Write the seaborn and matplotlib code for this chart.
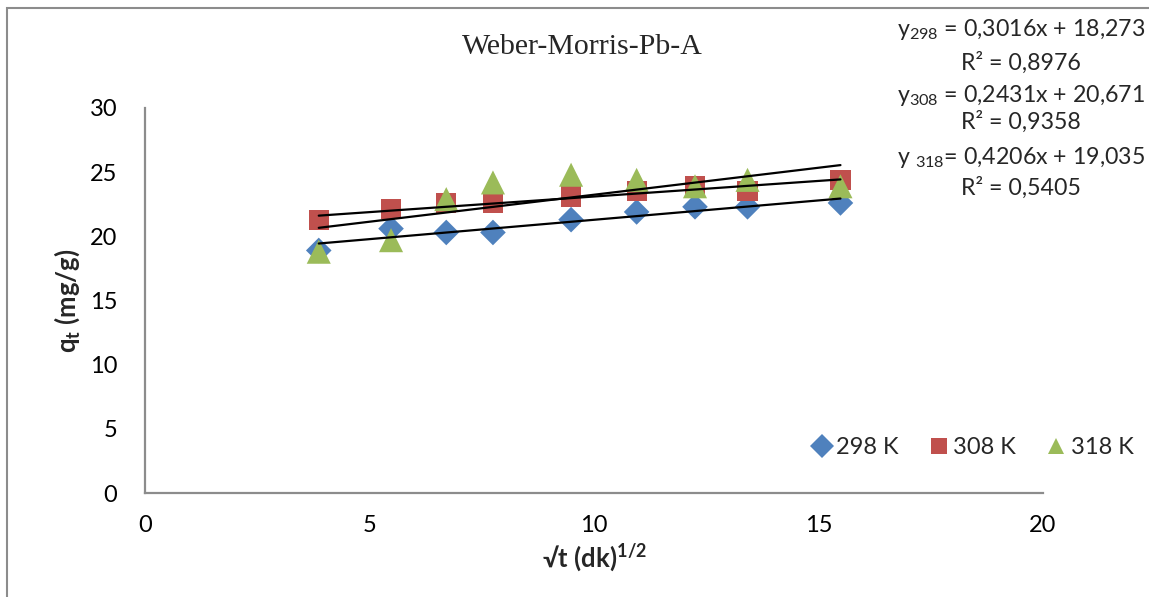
import numpy as np
import pandas as pd
import matplotlib
matplotlib.use("Agg")
import matplotlib.pyplot as plt
from matplotlib.lines import Line2D
from matplotlib.patches import Rectangle
import seaborn as sns

# ---- data ----
sqrt_t = [3.87, 5.48, 6.71, 7.75, 9.49, 10.95, 12.25, 13.42, 15.49]
q_298 = [18.9, 20.6, 20.3, 20.3, 21.3, 21.9, 22.3, 22.3, 22.6]
q_308 = [21.3, 22.1, 22.6, 22.6, 23.1, 23.5, 23.9, 23.5, 24.4]
q_318 = [18.8, 19.7, 22.9, 24.2, 24.8, 24.4, 23.9, 24.4, 23.9]
series_labels = ["298 K", "308 K", "318 K"]
slopes = [0.3016, 0.2431, 0.4206]
intercepts = [18.273, 20.671, 19.035]
eq_texts = [r"y$_{298}$ = 0,3016x + 18,273", "R² = 0,8976",
            r"y$_{308}$ = 0,2431x + 20,671", "R² = 0,9358",
            r"y $_{318}$= 0,4206x + 19,035", "R² = 0,5405"]
x_ticks = [0, 5, 10, 15, 20]
y_ticks = [0, 5, 10, 15, 20, 25, 30]

sns.set_theme(style="white")
plt.rcParams['font.family'] = ['Lato', 'DejaVu Sans']
plt.rcParams['mathtext.fontset'] = 'custom'
plt.rcParams['mathtext.rm'] = 'Lato'
plt.rcParams['mathtext.it'] = 'Lato'
plt.rcParams['mathtext.bf'] = 'Lato:bold'

df = pd.DataFrame({
    "x": sqrt_t * 3,
    "q": q_298 + q_308 + q_318,
    "T": sum([[lab] * len(sqrt_t) for lab in series_labels], []),
})
colors = {"298 K": "#4F81BD", "308 K": "#C0504D", "318 K": "#9BBB59"}
markers = {"298 K": "D", "308 K": "s", "318 K": "^"}
sizes = {"298 K": 170, "308 K": 210, "318 K": 300}

fig = plt.figure(figsize=(11.49, 5.97), dpi=100)
ax = fig.add_axes([0.1262, 0.1742, 0.7815, 0.6449])

for lab in series_labels:
    sub = df[df["T"] == lab]
    sns.scatterplot(data=sub, x="x", y="q", marker=markers[lab], color=colors[lab],
                    s=sizes[lab], edgecolor="none", ax=ax, legend=False, zorder=3)

xs = np.array([min(sqrt_t), max(sqrt_t)])
for m, b in zip(slopes, intercepts):
    sns.lineplot(x=xs, y=m * xs + b, color="black", linewidth=1.6, ax=ax, zorder=4)

ax.set_xlim(0, 20)
ax.set_ylim(0, 30)
ax.set_xticks(x_ticks)
ax.set_yticks(y_ticks)
ax.tick_params(axis="both", length=0, labelsize=17, colors="black")
ax.tick_params(axis="x", pad=16)
ax.tick_params(axis="y", pad=20)
for sp in ["top", "right"]:
    ax.spines[sp].set_visible(False)
for sp in ["left", "bottom"]:
    ax.spines[sp].set_color("#8C8C8C")
    ax.spines[sp].set_linewidth(1.6)
ax.grid(False)

ax.set_xlabel("√t (dk)$^{\\mathbf{1/2}}$", fontsize=18.5, fontweight="bold")
ax.set_ylabel("q$_{\\mathbf{t}}$ (mg/g)", fontsize=18.5, fontweight="bold")
ax.xaxis.set_label_coords(0.5, -0.13)
ax.yaxis.set_label_coords(-0.07, 0.5)

fig.text(0.507, 0.921, "Weber-Morris-Pb-A", family="Liberation Serif", fontsize=21.5,
         ha="center", va="center")

eq_y = [30, 63, 95, 122, 158, 188]
for txt, yp in zip(eq_texts, eq_y):
    fig.text(1021 / 1149, 1 - yp / 597, txt, fontsize=16.7, ha="center", va="center")

handles = [Line2D([], [], linestyle="none", marker=markers[l], color=colors[l],
                  markersize=12, markeredgewidth=0) for l in series_labels]
fig.legend(handles, series_labels, loc="center", bbox_to_anchor=(972 / 1149, 1 - 448 / 597),
           ncol=3, frameon=False, fontsize=17, handletextpad=0.1, columnspacing=1.2,
           handlelength=1.0)

fig.patches.append(Rectangle((7 / 1149, -0.5), 2, 0.5 + 1 - 8 / 597, transform=fig.transFigure,
                             fill=False, edgecolor="#8C8C8C", linewidth=1.5))

fig.savefig("out.png", dpi=100)
